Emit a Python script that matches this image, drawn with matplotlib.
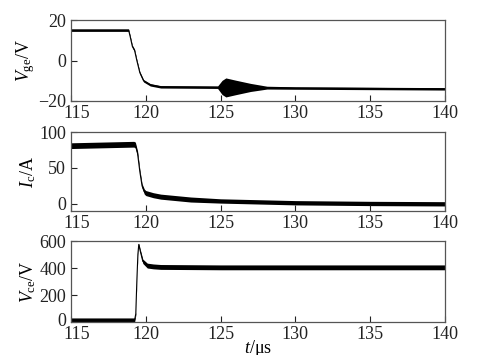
import matplotlib
matplotlib.use('Agg')
import matplotlib.pyplot as plt
import matplotlib.transforms as mtransforms
import numpy as np
from matplotlib import rcParams

# Times-like serif font
rcParams['font.family'] = ['Liberation Serif', 'DejaVu Serif']
rcParams['mathtext.fontset'] = 'custom'
rcParams['mathtext.rm'] = 'Liberation Serif'
rcParams['mathtext.it'] = 'Liberation Serif:italic'
rcParams['font.size'] = 11

# Gate voltage V_ge (center of trace and half-width of the noise/ringing band)
t_vge = [115, 118.85, 118.95, 119.1, 119.25, 119.4, 119.6, 119.85, 120.3, 121.0,
         124.8, 125.1, 125.35, 126.0, 127.0, 128.1, 130.0, 140.0]
vge_mid = [15, 15, 12, 7, 5, 0, -6, -10, -12, -13,
           -13.2, -13.3, -13.3, -13.3, -13.3, -13.4, -13.6, -14.0]
vge_hw = [0.6, 0.6, 0.6, 0.6, 0.6, 0.6, 0.6, 0.6, 0.6, 0.6,
          0.6, 3.5, 4.7, 3.6, 2.0, 0.7, 0.6, 0.6]

# Collector current I_c
t_ic = [115, 119.2, 119.3, 119.45, 119.6, 119.75, 119.9, 120.0, 120.5, 121, 122, 123,
        125, 127, 130, 135, 140]
ic_mid = [81, 83, 82, 70, 45, 25, 17, 15, 12, 10, 8, 6, 4, 3, 1.5, 0.5, 0]
ic_hw = [4, 4, 4, 3.5, 3, 3, 3.5, 3.5, 3.5, 3.5, 3.5, 3.5, 3, 3, 3, 3, 3]

# Collector-emitter voltage V_ce
t_vce = [115, 119.25, 119.33, 119.4, 119.47, 119.53, 119.62, 119.8, 120.1, 120.5, 121,
         125, 130, 140]
vce_mid = [14, 14, 60, 300, 500, 575, 530, 450, 418, 412, 408, 405, 405, 405]
vce_hw = [16, 16, 10, 10, 10, 10, 12, 16, 18, 18, 18, 18, 18, 18]

x_ticks = [115, 120, 125, 130, 135, 140]

panels = [
    (t_vge, vge_mid, vge_hw, (-20, 20), [-20, 0, 20], r'$V_{\rm ge}$/V',
     [0.1452, 0.7155, 0.7648, 0.228]),
    (t_ic, ic_mid, ic_hw, (-10, 100), [0, 50, 100], r'$I_{\rm c}$/A',
     [0.1452, 0.4056, 0.7648, 0.2225]),
    (t_vce, vce_mid, vce_hw, (0, 600), [0, 200, 400, 600], r'$V_{\rm ce}$/V',
     [0.1452, 0.0930, 0.7648, 0.228]),
]

fig = plt.figure(figsize=(4.89, 3.55), dpi=100)
shift_x = mtransforms.ScaledTranslation(6 / 100, 0, fig.dpi_scale_trans)
shift_y = mtransforms.ScaledTranslation(0, 2 / 100, fig.dpi_scale_trans)

axes = []
for t, mid, hw, ylim, yticks, ylabel, pos in panels:
    ax = fig.add_axes(pos)
    t = np.array(t)
    mid = np.array(mid)
    hw = np.array(hw)
    ax.fill_between(t, mid - hw, mid + hw, color='black', linewidth=0)
    ax.plot(t, mid, color='black', linewidth=0.8)
    ax.set_xlim(115, 140)
    ax.set_ylim(*ylim)
    ax.set_xticks(x_ticks)
    ax.set_yticks(yticks)
    ax.tick_params(direction='in', length=4, width=0.8, labelsize=13,
                   colors='#222222')
    ax.tick_params(axis='x', pad=3)
    ax.tick_params(axis='y', pad=3.5)
    for sp in ax.spines.values():
        sp.set_color('#555555')
        sp.set_linewidth(0.9)
    ax.set_ylabel(ylabel, fontsize=13, labelpad=1)
    # first x label sits a little right of its tick, as in the original
    first = ax.get_xticklabels()[0]
    first.set_transform(first.get_transform() + shift_x)
    axes.append(ax)

# bottom "0" of the last panel sits slightly above the axis line
low = axes[-1].get_yticklabels()[0]
low.set_transform(low.get_transform() + shift_y)

axes[-1].set_xlabel(r'$t$/μs', fontsize=13, labelpad=-4)

fig.savefig('out.png', dpi=100)
plt.close(fig)
